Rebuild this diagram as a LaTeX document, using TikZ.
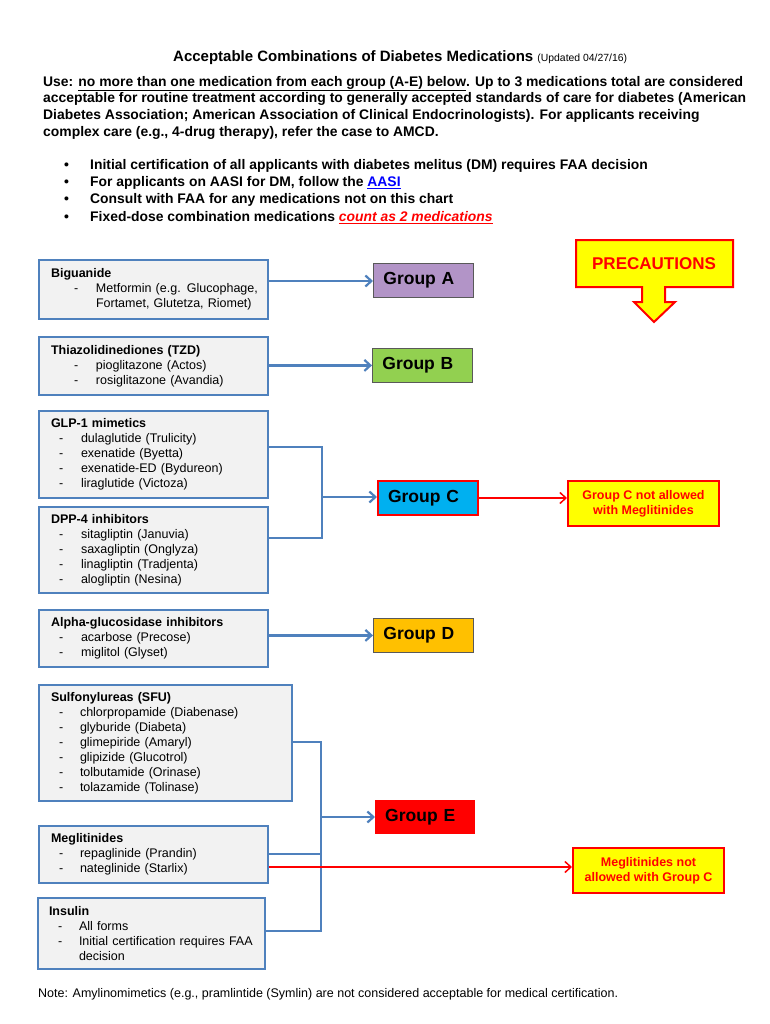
\documentclass[tikz,border=0pt]{standalone}
\usepackage{fontspec}
\setmainfont{Liberation Sans}
\usetikzlibrary{arrows.meta}
\definecolor{boxblue}{HTML}{4F81BD}
\definecolor{boxgray}{HTML}{F2F2F2}
\definecolor{grpA}{HTML}{B294C7}
\definecolor{grpB}{HTML}{92D050}
\definecolor{grpC}{HTML}{00B0F0}
\definecolor{grpD}{HTML}{FFC000}
\definecolor{warnyel}{HTML}{FFFF00}
\definecolor{linkblue}{HTML}{0000FF}
\newcommand\dl[3]{\hspace*{#1pt}\makebox[#2pt][l]{-}\mbox{#3}}
\begin{document}
\begin{tikzpicture}[x=1pt,y=-1pt,
  medbox/.style={draw=boxblue, line width=2pt, fill=boxgray, inner xsep=12pt, inner ysep=0pt,
     align=left, anchor=north west, font=\fontsize{12.5}{15}\selectfont},
  grpbox/.style={minimum width=100pt, minimum height=34pt, inner xsep=10pt, text width=80pt,
     align=left, font=\bfseries\fontsize{17.5}{20}\selectfont},
  warnbox/.style={draw=red, line width=2pt, fill=warnyel, text=red, align=center,
     font=\bfseries\fontsize{12.5}{15}\selectfont, minimum width=151pt, minimum height=45pt},
  blueline/.style={draw=boxblue, line width=2.5pt},
  bluearrow/.style={blueline, -{Straight Barb[length=6pt,width=11pt,line width=2.2pt]}},
  redarrow/.style={draw=red, line width=1.5pt, -{Straight Barb[length=6pt,width=11pt,line width=1.5pt]}}
]
\useasboundingbox[fill=white] (0,0) rectangle (770,1024);

% title
\node[anchor=base west, inner sep=0pt, font=\bfseries\fontsize{15}{18}\selectfont] (title) at (173,62)
  {Acceptable Combinations of Diabetes Medications {\mdseries\fontsize{10.4}{12}\selectfont (Updated 04/27/16)}};

% header paragraph
\node[anchor=north west, inner sep=0pt, align=left, font=\bfseries\fontsize{13.9}{16.7}\selectfont] (intro) at (43,76)
  {Use: \underline{no more than one medication from each group (A-E) below}. Up to 3 medications total are considered\\
   acceptable for routine treatment according to generally accepted standards of care for diabetes (American\\
   Diabetes Association; American Association of Clinical Endocrinologists). For applicants receiving\\
   complex care (e.g., 4-drug therapy), refer the case to AMCD.};

\node[anchor=north west, inner sep=0pt, align=left, font=\bfseries\fontsize{13.9}{17.3}\selectfont] (bullets) at (64,159)
  {\makebox[26pt][l]{\textbullet}Initial certification of all applicants with diabetes melitus (DM) requires FAA decision\\
   \makebox[26pt][l]{\textbullet}For applicants on AASI for DM, follow the \textcolor{linkblue}{\underline{AASI}}\\
   \makebox[26pt][l]{\textbullet}Consult with FAA for any medications not on this chart\\
   \makebox[26pt][l]{\textbullet}Fixed-dose combination medications \textcolor{red}{\itshape\underline{count as 2 medications}}};

% medication boxes
\node[medbox, text width=205pt, minimum height=59pt] (bigu) at (38,259)
  {\textbf{Biguanide}\\ \dl{23}{22}{Metformin (e.g. Glucophage,}\\ \hspace*{45pt}Fortamet, Glutetza, Riomet)};
\node[medbox, text width=205pt, minimum height=58pt] (tzd) at (38,336)
  {\textbf{Thiazolidinediones (TZD)}\\ \dl{23}{22}{pioglitazone (Actos)}\\ \dl{23}{22}{rosiglitazone (Avandia)}};
\node[medbox, text width=205pt, minimum height=87pt] (glp) at (38,410)
  {\textbf{GLP-1 mimetics}\\ \dl{8}{22}{dulaglutide (Trulicity)}\\ \dl{8}{22}{exenatide (Byetta)}\\
   \dl{8}{22}{exenatide-ED (Bydureon)}\\ \dl{8}{22}{liraglutide (Victoza)}};
\node[medbox, text width=205pt, minimum height=86pt] (dpp) at (38,506)
  {\textbf{DPP-4 inhibitors}\\ \dl{8}{22}{sitagliptin (Januvia)}\\ \dl{8}{22}{saxagliptin (Onglyza)}\\
   \dl{8}{22}{linagliptin (Tradjenta)}\\ \dl{8}{22}{alogliptin (Nesina)}};
\node[medbox, text width=205pt, minimum height=57pt] (alpha) at (38,609)
  {\textbf{Alpha-glucosidase inhibitors}\\ \dl{8}{22}{acarbose (Precose)}\\ \dl{8}{22}{miglitol (Glyset)}};
\node[medbox, text width=229pt, minimum height=116pt] (sfu) at (38,684)
  {\textbf{Sulfonylureas (SFU)}\\ \dl{8}{21}{chlorpropamide (Diabenase)}\\ \dl{8}{21}{glyburide (Diabeta)}\\
   \dl{8}{21}{glimepiride (Amaryl)}\\ \dl{8}{21}{glipizide (Glucotrol)}\\ \dl{8}{21}{tolbutamide (Orinase)}\\
   \dl{8}{21}{tolazamide (Tolinase)}};
\node[medbox, text width=205pt, minimum height=57pt] (meg) at (38,825)
  {\textbf{Meglitinides}\\ \dl{8}{21}{repaglinide (Prandin)}\\ \dl{8}{21}{nateglinide (Starlix)}};
\node[medbox, text width=205pt, minimum height=71pt, inner xsep=11pt] (ins) at (37,897)
  {\textbf{Insulin}\\ \dl{9}{21}{All forms}\\ \dl{9}{21}{Initial certification requires FAA}\\ \hspace*{30pt}decision};

% group boxes
\node[grpbox, draw=black!65, line width=0.8pt, fill=grpA, anchor=north west] (ga) at (373,263) {Group A};
\node[grpbox, draw=black!65, line width=0.8pt, fill=grpB, anchor=north west] (gb) at (372,348) {Group B};
\node[grpbox, draw=red, line width=2pt, fill=grpC, anchor=north west] (gc) at (377,480) {Group C};
\node[grpbox, draw=black!65, line width=0.8pt, fill=grpD, anchor=north west] (gd) at (373,618) {Group D};
\node[grpbox, fill=red, anchor=north west] (ge) at (375,800) {Group E};

% warning boxes
\node[warnbox, anchor=north west] (cnote) at (567,480) {Group C not allowed\\ with Meglitinides};
\node[warnbox, anchor=north west] (mnote) at (572,847) {Meglitinides not\\ allowed with Group C};

% precautions callout
\draw[draw=red, line width=2pt, fill=warnyel, line join=miter]
  (576,240) -- (733,240) -- (733,287) -- (665,287) -- (665,302) -- (675,302) -- (654,322)
  -- (634,302) -- (642,302) -- (642,287) -- (576,287) -- cycle;
\node[text=red, font=\bfseries\fontsize{17}{20}\selectfont] (prec) at (654,264) {PRECAUTIONS};

% connectors
\coordinate (jc) at (322,497);
\coordinate (je) at (321,817);
\draw[bluearrow] (bigu.east |- 0,281) -- (ga.west |- 0,281);
\draw[bluearrow] (tzd.east |- gb.west) -- (gb.west);
\draw[blueline] (glp.east |- 0,447) -| (jc) |- (dpp.east |- 0,538);
\draw[bluearrow] (jc) -- (gc.west |- jc);
\draw[bluearrow] (alpha.east |- gd.west) -- (gd.west);
\draw[blueline] (sfu.east |- 0,742) -| (je |- 0,931) -- (ins.east |- 0,931);
\draw[blueline] (meg.east |- 0,854) -- (je |- 0,854);
\draw[bluearrow] (je) -- (ge.west |- je);
\draw[redarrow] (meg.east |- 0,867) -- (mnote.west |- 0,867);
\draw[redarrow] (gc.east |- 0,498) -- (cnote.west |- 0,498);

% footnote
\node[anchor=base west, inner sep=0pt, font=\fontsize{12.5}{15}\selectfont] (note) at (38,997)
  {Note: Amylinomimetics (e.g., pramlintide (Symlin) are not considered acceptable for medical certification.};
\end{tikzpicture}
\end{document}
